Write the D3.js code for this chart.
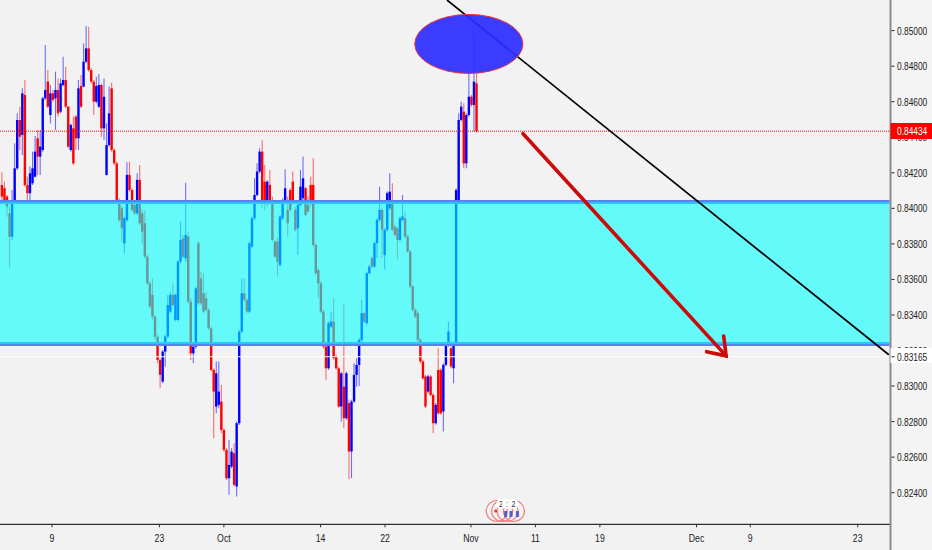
<!DOCTYPE html>
<html><head><meta charset="utf-8">
<script src="https://cdn.jsdelivr.net/npm/d3@7"></script>
<style>html,body{margin:0;padding:0;background:#f2f2f2;overflow:hidden}svg{display:block}text{font-family:"Liberation Sans",Arial,sans-serif}</style>
</head><body><svg id="c" width="932" height="550"></svg>
<script>
// prices in 1/100000 units
const opens=[84131,84113,84066,83972,83840,84047,84225,84497,84413,84638,84131,84085,84141,84178,84394,84291,84328,84619,84713,84525,84647,84619,84666,84544,84694,84722,84572,84328,84450,84516,84394,84688,84685,84825,84900,84778,84713,84600,84572,84694,84450,84188,84356,84675,84328,84253,84047,84000,83803,83934,84188,84103,84019,83972,84160,83972,83916,83728,83578,83513,83391,83278,83147,83025,83194,83278,83419,83513,83372,83372,83700,83831,83719,83841,83475,83184,83222,83803,83606,83522,83494,83428,83325,83091,82884,82894,82913,82753,82641,82481,82547,82622,82435,82791,83307,83522,83485,83419,83785,83944,84075,84207,84319,84150,84047,84132,84029,83813,83813,83682,83944,84047,83991,84103,84150,83991,83888,84019,84057,84113,84019,84132,84132,83794,83653,83578,83419,83222,83100,83335,83363,83166,83100,82885,82997,82819,82904,82632,82913,83063,83119,83260,83410,83354,83635,83719,83672,83804,83935,83991,83738,83879,84000,84029,83897,83888,83822,83935,83944,83841,83757,83560,83429,83410,83260,83138,83054,82969,83054,82950,82791,83091,83091,82857,83119,83232,83213,83100,83241,84047,84497,84544,84253,84525,84628,84582,84703];
const closes=[84066,84047,84010,83840,84047,84225,84497,84403,84647,84131,84085,84197,84225,84319,84291,84347,84619,84666,84572,84647,84610,84666,84535,84703,84722,84572,84347,84469,84253,84394,84675,84572,84825,84900,84778,84713,84600,84688,84694,84450,84628,84356,84534,84328,84253,84047,83934,83888,83944,84188,84103,83991,83972,84160,83916,83869,83728,83578,83447,83391,83278,83147,83063,83194,83278,83456,83513,83456,83513,83700,83822,83728,83850,83475,83184,83222,83550,83466,83466,83419,83428,83325,83091,82969,83072,82969,82753,82641,82481,82556,82631,82444,82791,83306,83522,83485,83419,83803,83944,84075,84207,84319,84047,84047,84150,84047,83822,83729,83700,83954,84047,84113,83916,83991,84047,83879,84019,84122,84169,83963,83982,84047,83794,83635,83578,83419,83222,83100,83354,83363,83157,83100,82885,83072,82819,83072,82632,82913,83063,83119,83260,83410,83363,83635,83672,83672,83804,83935,83991,83879,83879,84085,84094,83879,83851,83822,83944,83954,83841,83757,83560,83429,83391,83260,83138,83044,82885,83054,82950,82791,82894,82847,82847,83119,83232,83307,83110,83241,84103,84497,84572,84253,84525,84628,84582,84713,84434];
const highs=[84203,84150,84075,84010,84103,84366,84535,84572,84675,84722,84178,84235,84319,84407,84441,84441,84628,84919,84778,84694,84666,84769,84731,84731,84853,84797,84576,84478,84516,84525,84722,84750,84928,85026,85022,84788,84722,84741,84756,84703,84731,84478,84685,84707,84338,84263,84056,84010,83953,84259,84263,84113,84028,84197,84244,83991,83991,83738,83588,83606,83400,83287,83156,83203,83287,83513,83530,83578,83522,83710,83925,83850,84144,83869,83494,83231,83559,83813,83644,83634,83531,83438,83334,83100,83138,83138,83006,82763,82650,82697,82650,82678,82800,83316,83607,83607,83494,83813,83953,84169,84254,84338,84385,84244,84160,84216,84066,83822,83832,83963,84057,84220,84066,84113,84207,84010,84029,84216,84291,84122,84066,84178,84282,83804,83663,83588,83429,83232,83363,83419,83494,83176,83110,83082,83466,83082,82923,82923,83129,83157,83270,83485,83419,83644,83682,83729,83813,83944,84122,84000,83888,84094,84197,84141,83907,83897,83954,84075,83982,83851,83766,83569,83438,83419,83269,83148,83063,83063,83063,82960,82904,83213,83100,83129,83242,83363,83222,83250,84113,84535,84600,84591,84535,84760,84638,84975,84760];
const lows=[84047,84028,83953,83665,83822,84028,84216,84328,84300,84122,84047,84038,84131,84174,84188,84188,84319,84610,84563,84478,84600,84441,84516,84535,84685,84563,84338,84319,84244,84328,84328,84563,84681,84816,84769,84703,84525,84591,84563,84403,84385,84184,84347,84319,84244,84028,83925,83813,83747,83925,84094,83981,83963,83963,83906,83803,83719,83569,83438,83372,83260,83128,82988,83016,83110,83269,83410,83447,83363,83363,83690,83719,83700,83466,83147,83128,83212,83456,83456,83410,83419,83316,83082,82706,82847,82875,82735,82631,82471,82388,82538,82435,82378,82781,83298,83476,83410,83410,83775,83935,84066,84197,84000,83991,84010,84029,83813,83720,83616,83672,83935,84038,83841,83982,84038,83870,83738,84010,84047,83954,83972,84010,83785,83626,83494,83410,83213,83035,83091,83326,83148,83091,82876,82800,82763,82810,82476,82482,82904,82997,83000,83250,83354,83345,83626,83663,83663,83720,83926,83720,83654,83870,83991,83870,83841,83710,83813,83926,83832,83748,83550,83420,83382,83250,83129,83035,82876,82960,82941,82735,82782,82838,82838,82744,83110,83222,83100,83016,83232,84038,84488,84225,84225,84516,84572,84431,84425];
const priceTicks=[0.85,0.848,0.846,0.844,0.842,0.84,0.838,0.836,0.834,0.832,0.83,0.828,0.826,0.824];
const dateTicks=[["9",0],["23",10],["Oct",16],["14",25],["22",31],["Nov",39],["11",45],["19",51],["Dec",60],["9",65],["23",75]];
const barsPerDay=4.21, firstBarDay=-4.7;
const lastPrice=0.84434, linePrice=0.83165;
const zoneTop=0.84035, zoneBottom=0.83237;
const trendDays=[36.77,77.9], trendPrices=[0.85172,0.83176];
const arrowDays=[43.85,62.75], arrowPrices=[0.84420,0.83170];
const ellipseDay=38.8, ellipsePrice=0.84925, ellipseDayR=5.03, ellipsePriceR=0.00166;
const eventDays=[41.4,41.9,42.4,43.0];

const svg=d3.select("#c");
const W=890.5,H=524.3;
const x=d3.scaleLinear().domain([0,75]).range([52,857.7]);
const y=d3.scaleLinear().domain([0.85,0.824]).range([30.6,492.7]);
const barX=i=>x(firstBarDay+i/barsPerDay);
const p=v=>y(v/1e5);
const RED="#ff0000",BLUE="#0000ff";
const col=i=>closes[i]>=opens[i]?BLUE:RED;
const plot=svg.append("g");

// wicks and bodies
opens.forEach((o,i)=>{
  plot.append("line").attr("x1",barX(i)+.4).attr("x2",barX(i)+.4).attr("y1",p(highs[i])).attr("y2",p(lows[i]))
    .attr("stroke",col(i)).attr("stroke-width",1.1).attr("stroke-opacity",.55);
});
opens.forEach((o,i)=>{
  const t=Math.min(p(o),p(closes[i])),b=Math.max(p(o),p(closes[i]));
  plot.append("rect").attr("x",barX(i)-.8).attr("width",2.4).attr("y",t).attr("height",Math.max(1,b-t)).attr("fill",col(i));
});

// zone: borders sit half under the fill
[zoneTop,zoneBottom].forEach(v=>{
  plot.append("line").attr("x1",0).attr("x2",W-1).attr("y1",y(v)).attr("y2",y(v)).attr("stroke","#5a82ee").attr("stroke-width",4);
});
plot.append("rect").attr("x",0).attr("width",W-1).attr("y",y(zoneTop)).attr("height",y(zoneBottom)-y(zoneTop)).attr("fill","rgb(0,255,255)").attr("fill-opacity",.59);

// price lines
plot.append("line").attr("x1",0).attr("x2",W).attr("y1",y(linePrice)).attr("y2",y(linePrice)).attr("stroke","#fff").attr("stroke-width",1);
plot.append("line").attr("x1",0).attr("x2",W).attr("y1",y(lastPrice)).attr("y2",y(lastPrice)).attr("stroke","#e01010").attr("stroke-width",1).attr("stroke-dasharray","1,1");

// trend line, ellipse
plot.append("line").attr("x1",x(trendDays[0])).attr("y1",y(trendPrices[0])).attr("x2",x(trendDays[1])).attr("y2",y(trendPrices[1])).attr("stroke","#000").attr("stroke-width",1.7);
plot.append("ellipse").attr("cx",x(ellipseDay)).attr("cy",y(ellipsePrice)).attr("rx",ellipseDayR*(x(1)-x(0))).attr("ry",y(0)-y(ellipsePriceR)).attr("fill","rgb(45,45,255)").attr("fill-opacity",.92).attr("stroke","#e8303a").attr("stroke-width",1);

// arrow
const ax0=x(arrowDays[0]),ay0=y(arrowPrices[0]),ax1=x(arrowDays[1]),ay1=y(arrowPrices[1]);
const ang=Math.atan2(ay1-ay0,ax1-ax0);
const barb=s=>[ax1-20*Math.cos(ang+s*.62),ay1-20*Math.sin(ang+s*.62)];
const ag=plot.append("g").attr("fill","none").attr("stroke","#cc0a0a").attr("stroke-width",3.6).attr("stroke-linecap","round").attr("stroke-linejoin","miter");
ag.append("line").attr("x1",ax0).attr("y1",ay0).attr("x2",ax1).attr("y2",ay1);
ag.append("path").attr("d",d3.line()([barb(1),[ax1,ay1],barb(-1)]));

// event badges
const ev=svg.append("g");
eventDays.forEach(d=>{
  ev.append("circle").attr("cx",x(d)).attr("cy",511).attr("r",10.5).attr("fill","none").attr("stroke","#f08080").attr("stroke-width",1.2);
});
eventDays.slice(1).forEach(d=>{
  ev.append("rect").attr("x",x(d)+2).attr("y",511).attr("width",3).attr("height",6).attr("fill","#5560c8");
});
ev.append("circle").attr("cx",x(eventDays[0])-1).attr("cy",511).attr("r",1.6).attr("fill","#ee3030");
[[eventDays[0]+.4,"2"],[eventDays[1]+.45,":"],[eventDays[3]-.05,"2"]].forEach(a=>{
  ev.append("circle").attr("cx",x(a[0])).attr("cy",504).attr("r",5).attr("fill","#fff");
  ev.append("text").attr("transform",`translate(${x(a[0])},507) scale(.8,1)`).attr("text-anchor","middle").attr("font-size",9).attr("fill","#333").text(a[1]);
});

// bottom axis
svg.append("line").attr("x1",0).attr("x2",W).attr("y1",H).attr("y2",H).attr("stroke","#000").attr("stroke-width",1);
dateTicks.forEach(t=>{
  const X=x(t[1]);
  svg.append("line").attr("x1",X).attr("x2",X).attr("y1",H).attr("y2",H+3).attr("stroke","#333");
  svg.append("text").attr("transform",`translate(${X},542) scale(.76,1)`).attr("text-anchor","middle").attr("font-size",11.5).attr("fill","#222").text(t[0]);
});

// right axis
svg.append("rect").attr("x",W).attr("y",0).attr("width",932-W).attr("height",550).attr("fill","#f4f4f4");
svg.append("line").attr("x1",W).attr("x2",W).attr("y1",0).attr("y2",550).attr("stroke","#8a8a8a").attr("stroke-width",2);
priceTicks.forEach(v=>{
  svg.append("line").attr("x1",W+1).attr("x2",W+4).attr("y1",y(v)).attr("y2",y(v)).attr("stroke","#222");
  svg.append("text").attr("transform",`translate(897,${y(v)+4}) scale(.73,1)`).attr("font-size",11.5).attr("fill","#222").text(v.toFixed(5));
});
const tag=(v,bg,fg,top,bot)=>{
  svg.append("rect").attr("x",W).attr("y",top).attr("width",932-W).attr("height",bot-top).attr("fill",bg);
  svg.append("text").attr("transform",`translate(897,${y(v)+4}) scale(.73,1)`).attr("font-size",11.5).attr("fill",fg).text(v.toFixed(5));
};
tag(linePrice,"#fff","#222",348,363);
svg.append("line").attr("x1",W+1).attr("x2",W+4).attr("y1",y(linePrice)).attr("y2",y(linePrice)).attr("stroke","#222");
tag(lastPrice,"#ff0000","#fff",123,139);
</script></body></html>
